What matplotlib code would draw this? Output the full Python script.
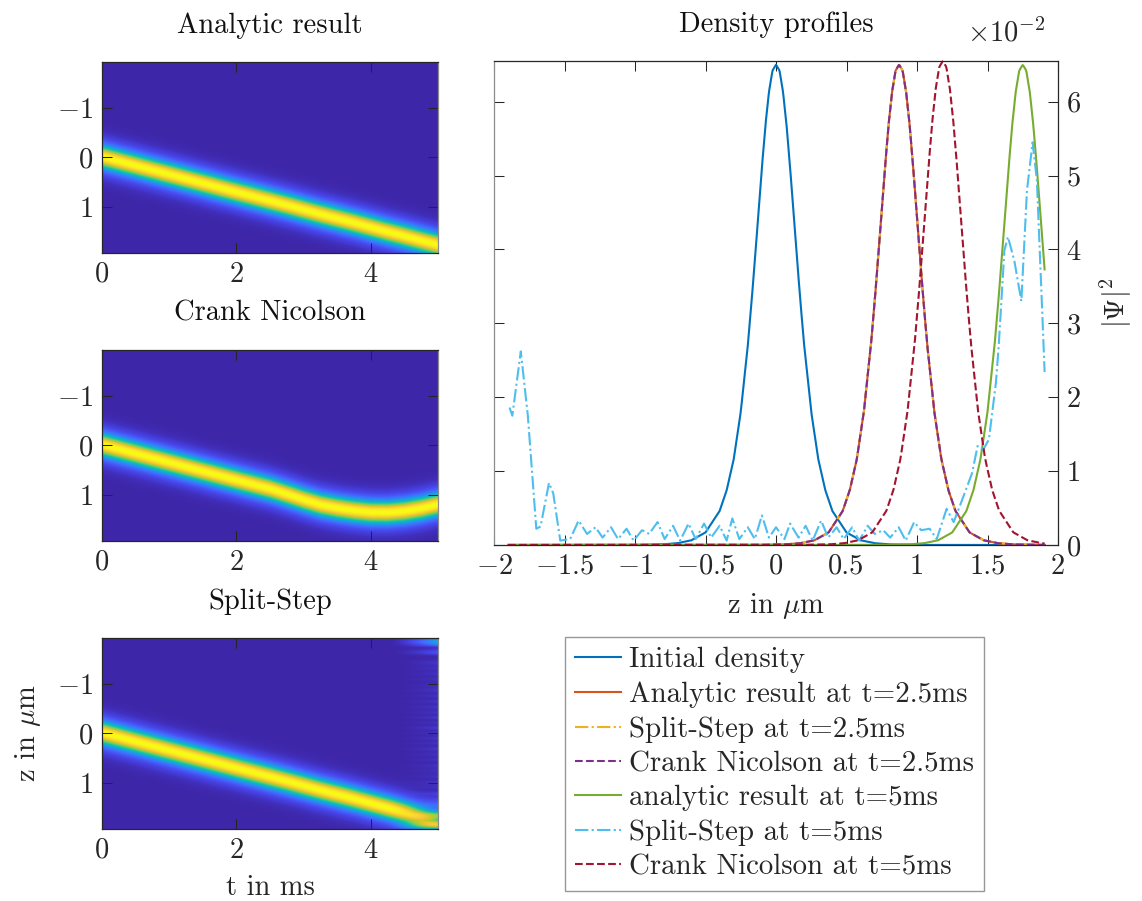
import numpy as np
import matplotlib
matplotlib.use("Agg")
import matplotlib.pyplot as plt
from matplotlib.colors import LinearSegmentedColormap
from matplotlib.lines import Line2D
from matplotlib.ticker import ScalarFormatter

plt.rcParams['font.family'] = 'cmr10'
plt.rcParams['mathtext.fontset'] = 'cm'
plt.rcParams['axes.formatter.use_mathtext'] = True
plt.rcParams['axes.unicode_minus'] = True

FS = 20.5
INK = '#262626'

# soliton density profile |psi|^2 (units of 1e-2) vs distance from its centre
prof_d = [0.0, 0.025, 0.05, 0.075, 0.1, 0.125, 0.15, 0.175, 0.2, 0.25, 0.3, 0.35, 0.4, 0.5, 0.6, 0.7, 0.8, 1.0, 4.0]
prof_v = [6.5, 6.42, 6.13, 5.68, 5.11, 4.48, 3.85, 3.25, 2.70, 1.80, 1.16, 0.74, 0.46, 0.17, 0.064, 0.024, 0.009, 0.001, 0.0]

# grid of the simulation
z_lo, z_hi = -1.9, 1.905

# peak positions / heights of the snapshots
centre_init = 0.0
centre_25 = 0.873
centre_an5 = 1.75
centre_cn5 = 1.183
peak_cn5 = 6.55

# soliton centre vs time (ms)
track_t = [0, 1, 2, 2.25, 2.5, 2.75, 3, 3.25, 3.5, 3.75, 4, 4.25, 4.5, 4.75, 5]
track_analytic = [0, 0.35, 0.70, 0.787, 0.873, 0.96, 1.05, 1.14, 1.225, 1.31, 1.40, 1.49, 1.575, 1.665, 1.75]
track_cn = [0, 0.35, 0.70, 0.787, 0.873, 0.98, 1.09, 1.19, 1.255, 1.305, 1.338, 1.342, 1.315, 1.26, 1.183]

# split-step density at t = 5 ms (units of 1e-2)
ss5_z = [-1.89, -1.87, -1.81, -1.76, -1.70, -1.67, -1.61, -1.58, -1.53, -1.46,
         -1.40, -1.34, -1.28, -1.23, -1.17, -1.12, -1.06, -1.01, -0.95, -0.90,
         -0.84, -0.79, -0.73, -0.68, -0.62, -0.57, -0.51, -0.46, -0.40, -0.35,
         -0.31, -0.26, -0.20, -0.15, -0.10, -0.05, 0.00, 0.06, 0.10, 0.16,
         0.21, 0.26, 0.32, 0.37, 0.43, 0.48, 0.54, 0.59, 0.65, 0.70,
         0.76, 0.81, 0.87, 0.92, 0.98, 1.03, 1.09, 1.14, 1.21, 1.26,
         1.32, 1.39, 1.43, 1.47, 1.51, 1.56, 1.58, 1.62, 1.645, 1.69,
         1.74, 1.78, 1.82, 1.85, 1.89, 1.905]
ss5_v = [1.86, 1.75, 2.62, 1.75, 0.22, 0.25, 0.84, 0.70, 0.06, 0.08,
         0.33, 0.15, 0.24, 0.10, 0.24, 0.08, 0.22, 0.06, 0.20, 0.15,
         0.31, 0.08, 0.26, 0.06, 0.29, 0.08, 0.29, 0.10, 0.26, 0.06,
         0.36, 0.08, 0.24, 0.08, 0.40, 0.10, 0.24, 0.08, 0.29, 0.10,
         0.26, 0.06, 0.33, 0.10, 0.24, 0.08, 0.24, 0.06, 0.26, 0.15,
         0.20, 0.10, 0.24, 0.06, 0.31, 0.20, 0.22, 0.08, 0.49, 0.31,
         0.61, 0.97, 1.34, 1.29, 1.43, 2.20, 2.71, 3.99, 4.17, 3.85,
         3.30, 4.80, 5.45, 4.94, 3.07, 2.34]

labels = ['Initial density', 'Analytic result at t=2.5ms', 'Split-Step at t=2.5ms',
          'Crank Nicolson at t=2.5ms', 'analytic result at t=5ms',
          'Split-Step at t=5ms', 'Crank Nicolson at t=5ms']
colors = ['#0072BD', '#D95319', '#EDB120', '#7E2F8E', '#77AC30', '#4DBEEE', '#A2142F']
styles = ['-', '-', '-.', '--', '-', '-.', '--']

# parula-like colour map
parula = LinearSegmentedColormap.from_list('parula', [
    (0.2422, 0.1504, 0.6603), (0.2717, 0.2426, 0.8637), (0.2810, 0.3228, 0.9579),
    (0.2586, 0.4234, 0.9894), (0.1707, 0.5233, 0.9673), (0.1199, 0.6078, 0.8887),
    (0.0704, 0.6891, 0.8084), (0.0394, 0.7502, 0.7122), (0.2135, 0.7883, 0.5776),
    (0.4012, 0.8064, 0.4143), (0.5891, 0.8100, 0.2692), (0.7572, 0.7950, 0.1620),
    (0.9035, 0.7727, 0.1663), (0.9880, 0.7811, 0.2350), (0.9808, 0.8538, 0.1717),
    (0.9658, 0.9334, 0.1080), (0.9769, 0.9839, 0.0805)])


def profile(z, centre, peak=6.5):
    return np.interp(np.abs(z - centre), prof_d, prof_v) * peak / 6.5


def field(track, t, z):
    c = np.interp(t, track_t, track)
    return profile(z[:, None], c[None, :])


z = np.linspace(z_lo, z_hi, 400)
t = np.linspace(0, 5, 250)

img_an = field(track_analytic, t, z)
img_cn = field(track_cn, t, z)
# split-step: follows the analytic path, breaks up into the t=5ms profile at the end
w = np.clip((t - 4.2) / 0.8, 0, 1) ** 2
img_ss = (1 - w[None, :]) * img_an + w[None, :] * np.interp(z, ss5_z, ss5_v)[:, None]

fig = plt.figure(figsize=(11.42, 9.01), dpi=100)

W, H = 1142, 901
def rect(x0, y0, x1, y1):
    return [x0 / W, 1 - y1 / H, (x1 - x0) / W, (y1 - y0) / H]


def style_axes(ax):
    ax.tick_params(direction='in', length=7.5, width=0.75, top=True, right=True,
                   labelsize=FS, colors=INK, pad=6)
    for s in ax.spines.values():
        s.set_color(INK)
        s.set_linewidth(0.9)


heat = [(img_an, 'Analytic result', 61.7), (img_cn, 'Crank Nicolson', 349.7), (img_ss, 'Split-Step', 637.7)]
for i, (img, title, top) in enumerate(heat):
    ax = fig.add_axes(rect(101.7, top, 438.3, top + 191.5))
    ax.imshow(img, cmap=parula, aspect='auto', interpolation='bilinear',
              extent=(0, 5, 1.92, -1.92), vmin=0)
    ax.set_xticks([0, 2, 4])
    ax.set_yticks([-1, 0, 1])
    ax.set_title(title, fontsize=FS, pad=21, color='#111111')
    style_axes(ax)
    ax.spines['right'].set_color('#8c8c8c')
    if i == 2:
        ax.set_xlabel('t in ms', fontsize=FS, color=INK, labelpad=8)
        ax.set_ylabel(r'z in $\mu$m', fontsize=FS, color=INK, labelpad=10)

# density snapshots
zz = np.linspace(z_lo, z_hi, 800)
curves = [
    (zz, profile(zz, centre_init)),
    (zz, profile(zz, centre_25)),
    (zz, profile(zz, centre_25)),
    (zz, profile(zz, centre_25)),
    (zz, profile(zz, centre_an5)),
    (np.array(ss5_z), np.array(ss5_v)),
    (zz, profile(zz, centre_cn5, peak_cn5)),
]

ax = fig.add_axes(rect(494, 61, 1058, 545))
for (x, y), lab, c, ls in zip(curves, labels, colors, styles):
    ax.plot(x, y * 1e-2, ls, color=c, lw=1.5, label=lab, clip_on=False)
ax.set_xlim(-2, 2)
ax.set_ylim(0, peak_cn5 * 1e-2)
ax.set_xticks(np.arange(-2, 2.01, 0.5))
ax.set_xticklabels(['$-2$', '$-1.5$', '$-1$', '$-0.5$', '0', '0.5', '1', '1.5', '2'])
fmt = ScalarFormatter(useMathText=True)
fmt.set_powerlimits((-1, 1))
ax.yaxis.set_major_formatter(fmt)
ax.set_yticks(np.arange(0, 6.01, 1) * 1e-2)
style_axes(ax)
ax.tick_params(axis='y', labelleft=False, labelright=True)
ax.yaxis.set_label_position('right')
ax.yaxis.get_offset_text().set_visible(False)
fig.text(1045 / W, 1 - 42 / H, r'$\times10^{-2}$', fontsize=FS, color=INK,
         ha='right', va='baseline')
ax.spines['left'].set_color('#8c8c8c')
ax.set_title('Density profiles', fontsize=FS, pad=21, color='#111111')
ax.set_xlabel(r'z in $\mu$m', fontsize=FS, color=INK, labelpad=8)
ax.set_ylabel(r'$|\Psi|^2$', fontsize=FS, color=INK, labelpad=12)

handles = [Line2D([], [], color=c, ls=ls, lw=1.5) for c, ls in zip(colors, styles)]
leg = fig.legend(handles, labels, loc='upper left', bbox_to_anchor=(565 / W, 1 - 637 / H),
                 fontsize=20.8, frameon=True, fancybox=False, edgecolor='#7f7f7f',
                 handlelength=1.6, handletextpad=0.25, labelspacing=0.28,
                 borderpad=0.35, borderaxespad=0)
leg.get_frame().set_linewidth(1.0)
for txt in leg.get_texts():
    txt.set_color(INK)

fig.savefig('out.png', dpi=100)
